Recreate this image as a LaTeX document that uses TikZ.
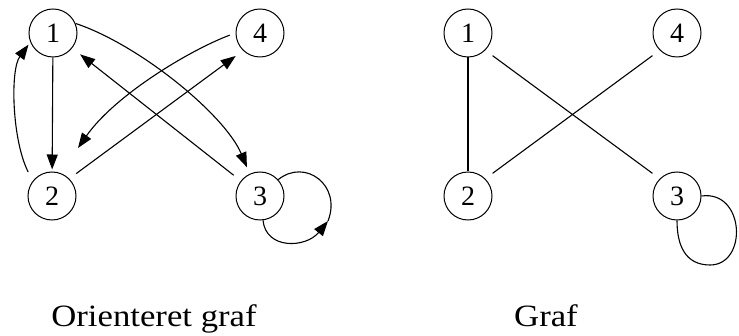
\documentclass[tikz,border=0pt]{standalone}
\usepackage{fontspec}
\setmainfont{Liberation Serif}
\usetikzlibrary{arrows.meta}
\begin{document}
\begin{tikzpicture}[x=1pt,y=-1pt,
  vtx/.style={circle,draw,line width=1pt,minimum size=48pt,inner sep=0pt,font=\fontsize{28}{30}\selectfont},
  edge/.style={line width=1.1pt},
  arr/.style={edge,-{Triangle[length=15pt,width=11pt]}},
  captext/.style={font=\fontsize{31}{33}\selectfont,anchor=base,xscale=1.12,inner sep=0pt}]
\useasboundingbox (0,0) rectangle (739,336);
% left graph
\node[vtx] (a1) at (53,33) {1};
\node[vtx] (a2) at (52,196) {2};
\node[vtx] (a3) at (260,196) {3};
\node[vtx] (a4) at (260,33) {4};
\coordinate (a42end) at (78,148);
\coordinate (lp) at (328,221);
\draw[arr,shorten >=2pt] (a1) -- (a2);
\draw[arr,shorten <=10pt,shorten >=3pt] (a2.142) .. controls (12,140) and (10,70) .. (a1.202);
\draw[arr,shorten >=7pt] (a1.23) .. controls (140,45) and (225,115) .. (a3.115);
\draw[arr,shorten <=9pt,shorten >=10pt] (a3) -- (a1);
\draw[arr,shorten <=6pt] (a4.180) .. controls (190,50) and (115,95) .. (a42end);
\draw[arr,shorten <=8.5pt,shorten >=9pt] (a2.45) -- (a4.226);
\draw[arr] (a3.277) .. controls (266,250) and (306,248) .. (lp);
\draw[edge] (lp) .. controls (342,185) and (305,158) .. (a3.42);
% right graph
\node[vtx] (b1) at (468,33) {1};
\node[vtx] (b2) at (468,196) {2};
\node[vtx] (b3) at (677,196) {3};
\node[vtx] (b4) at (677,33) {4};
\draw[edge] (b1) -- (b2);
\draw[edge,shorten <=9pt,shorten >=9pt] (b1.-45) -- (b3.135);
\draw[edge,shorten <=9pt,shorten >=9pt] (b4.225) -- (b2.45);
\draw[edge] (b3.east) .. controls (745,190) and (748,265) .. (710,265) .. controls (685,265) and (677,245) .. (b3.south);
% captions
\node[captext] (c1) at (154,327) {Orienteret graf};
\node[captext] (c2) at (546,327) {Graf};
\end{tikzpicture}
\end{document}
